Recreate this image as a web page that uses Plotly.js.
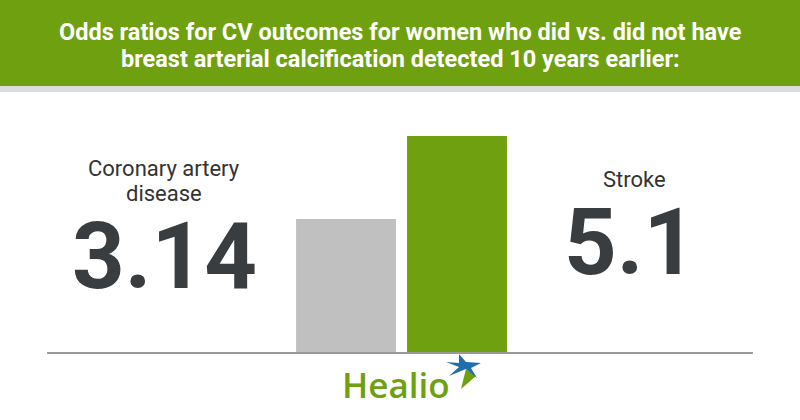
<!DOCTYPE html>
<html>
<head>
<meta charset="utf-8">
<script src="https://cdn.plot.ly/plotly-3.0.1.min.js"></script>
<style>html,body{margin:0;padding:0;background:#fff;}#chart{width:800px;height:420px;}</style>
</head>
<body>
<div id="chart"></div>
<script>
// ---- data ----
const categories = ["Coronary artery disease", "Stroke"];
const oddsRatios = [3.14, 5.1];
const valueLabels = ["3.14", "5.1"];
const labelLines = [["Coronary artery", "disease"], ["Stroke"]];
const titleLines = [
  "Odds ratios for CV outcomes for women who did vs. did not have",
  "breast arterial calcification detected 10 years earlier:"
];
const brandText = "Healio";

// ---- layout helpers (pixel -> paper) ----
const W = 800, H = 420, ML = 47, MR = 47, MT = 100, MB = 68;
const PW = W - ML - MR, PH = H - MT - MB;
const X = px => (px - ML) / PW;
const Y = py => (H - MB - py) / PH;

const green = "#6fa00f";
const dark = "#3a3d3f";

const trace = {
  type: "bar",
  x: categories,
  y: oddsRatios,
  width: 0.9,
  marker: { color: ["#c0c0c0", green], line: { width: 0 } },
  hoverinfo: "none",
  showlegend: false
};

const titleFont = { family: "Roboto, sans-serif", size: 23.5, color: "#ffffff", weight: 700 };
const labelFont = { family: "Roboto, sans-serif", size: 22, color: "#333333" };
const bigFont = { family: "Roboto, sans-serif", size: 92, color: dark, weight: 700 };

const annotations = [];
titleLines.forEach((t, i) => {
  annotations.push({ xref: "paper", yref: "paper", x: X(400), y: Y([32, 59][i]),
    xanchor: "center", yanchor: "middle", showarrow: false, text: "<b>" + t + "</b>", font: titleFont });
});
const labelX = [164, 634];
const labelY = [[168, 193], [179.5]];
const bigY = [256, 242.5];
const bigX = [164, 630];
categories.forEach((c, i) => {
  labelLines[i].forEach((ln, j) => {
    annotations.push({ xref: "paper", yref: "paper", x: X(labelX[i]), y: Y(labelY[i][j]),
      xanchor: "center", yanchor: "middle", showarrow: false, text: ln, font: labelFont });
  });
  annotations.push({ xref: "paper", yref: "paper", x: X(bigX[i]), y: Y(bigY[i]),
    xanchor: "center", yanchor: "middle", showarrow: false, text: "<b>" + valueLabels[i] + "</b>", font: bigFont });
});
annotations.push({ xref: "paper", yref: "paper", x: X(396), y: Y(384),
  xanchor: "center", yanchor: "middle", showarrow: false, text: brandText,
  font: { family: "Open Sans, Lato, sans-serif", size: 35, color: green, weight: 600 } });

function pathFromPx(pts) {
  return "M" + pts.map(p => X(p[0]).toFixed(5) + "," + Y(p[1]).toFixed(5)).join("L") + "Z";
}

const shapes = [
  { type: "rect", xref: "paper", yref: "paper", x0: X(0), x1: X(800), y0: Y(86), y1: Y(0),
    fillcolor: green, line: { width: 0 }, layer: "below" },
  { type: "rect", xref: "paper", yref: "paper", x0: X(0), x1: X(800), y0: Y(92), y1: Y(86),
    fillcolor: "#dcdcdc", line: { width: 0 }, layer: "below" },
  // star logo: green tail
  { type: "path", xref: "paper", yref: "paper", fillcolor: green, line: { width: 0 },
    path: pathFromPx([[466, 369], [476, 376], [461, 389]]) },
  // star logo: blue star
  { type: "path", xref: "paper", yref: "paper", fillcolor: "#1f6fae", line: { width: 0 },
    path: pathFromPx([[459, 354], [466, 362], [481, 363], [471, 368], [477, 378], [466, 369],
                      [449, 376], [459, 367], [446, 362], [459, 363]]) }
];

const layout = {
  width: W, height: H,
  margin: { l: ML, r: MR, t: MT, b: MB, pad: 0 },
  paper_bgcolor: "#ffffff",
  plot_bgcolor: "#ffffff",
  bargap: 0.1,
  xaxis: { type: "category", range: [(47 - 346) / 111, (753 - 346) / 111], showline: true,
    linecolor: "#9a9a9a", linewidth: 2, showticklabels: false, ticks: "", showgrid: false, zeroline: false, fixedrange: true },
  yaxis: { range: [0, 252 / 42.35], showticklabels: false, showgrid: false, zeroline: false, showline: false, ticks: "", fixedrange: true },
  annotations: annotations,
  shapes: shapes,
  showlegend: false
};

Plotly.newPlot("chart", [trace], layout, { displayModeBar: false, staticPlot: true });
</script>
</body>
</html>
